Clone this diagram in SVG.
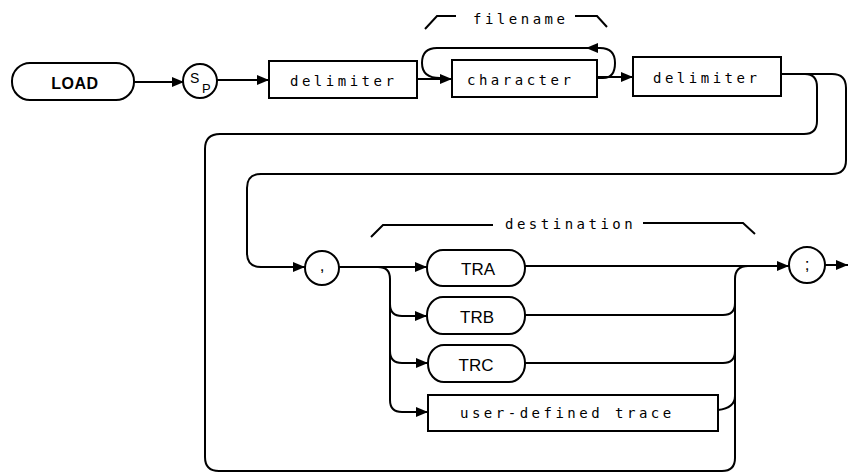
<svg xmlns="http://www.w3.org/2000/svg" width="848" height="475" viewBox="0 0 848 475">
<style>
.ln{fill:none;stroke:#000;stroke-width:2}
.box{fill:#fff;stroke:#000;stroke-width:2}
.mono{font-family:"DejaVu Sans Mono","Liberation Mono",monospace;font-size:14px;letter-spacing:3.5px;fill:#000}
.cap{font-family:"Liberation Sans","DejaVu Sans",sans-serif;font-size:17px;fill:#000;text-anchor:middle}
.bold{font-family:"Liberation Sans","DejaVu Sans",sans-serif;font-size:16px;font-weight:bold;fill:#000;text-anchor:middle;letter-spacing:0.5px}
</style>
<defs>
<marker id="ah" markerUnits="userSpaceOnUse" markerWidth="12" markerHeight="10" refX="12" refY="5" orient="auto">
<path d="M0,0 L12,5 L0,10 Z" fill="#000"/>
</marker>
</defs>
<g id="connectors">
<path class="ln" d="M134,82 H184" marker-end="url(#ah)"/>
<path class="ln" d="M217,80 H269" marker-end="url(#ah)"/>
<path class="ln" d="M417,79 H452" marker-end="url(#ah)"/>
<path class="ln" d="M597,78 H603 Q615,78 615,63 Q615,48 600,48 H586" marker-end="url(#ah)"/>
<path class="ln" d="M588,48 H437 Q422,48 422,63 Q422,78 440,78"/>
<path class="ln" d="M597,77 H633" marker-end="url(#ah)"/>
<path class="ln" d="M781,74 H832 Q846,74 846,88 V160 Q846,174 832,174 H261 Q247,174 247,188 V253 Q247,267 261,267 H305" marker-end="url(#ah)"/>
<path class="ln" d="M805,74 Q817,74 817,87 V121 Q817,134 804,134 H220 Q205,134 205,149 V457 Q205,471 219,471 H722 Q735,471 735,458 V279 Q735,266 748,266"/>
<path class="ln" d="M339,267 H427" marker-end="url(#ah)"/>
<path class="ln" d="M378,267 Q390,267 390,279 V400 Q390,412 402,412 H428" marker-end="url(#ah)"/>
<path class="ln" d="M390,304 Q390,316 402,316 H427" marker-end="url(#ah)"/>
<path class="ln" d="M390,351 Q390,363 402,363 H428" marker-end="url(#ah)"/>
<path class="ln" d="M525,266 H789" marker-end="url(#ah)"/>
<path class="ln" d="M525,315 H723 Q735,315 735,303"/>
<path class="ln" d="M525,363 H723 Q735,363 735,351"/>
<path class="ln" d="M718,410 Q735,408 735,396"/>
<path class="ln" d="M825,265 H848" marker-end="url(#ah)"/>
<path class="ln" d="M425,29 L437,16 H456"/>
<path class="ln" d="M575,16 H597 L607,27"/>
<path class="ln" d="M371,237 L383,225 H493"/>
<path class="ln" d="M643,223 H743 L755,234"/>
</g>
<text class="mono" x="473" y="24">filename</text>
<text class="mono" x="505" y="229">destination</text>
<g id="load">
<rect class="box" x="12" y="63" width="122" height="37" rx="18" ry="18"/>
<text class="bold" x="75" y="89">LOAD</text>
</g>
<g id="sp">
<circle class="box" cx="200" cy="81" r="17"/>
<text x="190" y="83" font-family="Liberation Sans, DejaVu Sans, sans-serif" font-size="14" fill="#000">S</text>
<text x="202" y="93" font-family="Liberation Sans, DejaVu Sans, sans-serif" font-size="13" fill="#000">P</text>
</g>
<g id="delimiter1">
<rect class="box" x="269" y="61" width="148" height="37"/>
<text class="mono" x="290" y="86">delimiter</text>
</g>
<g id="character">
<rect class="box" x="452" y="60" width="145" height="37"/>
<text class="mono" x="467" y="85">character</text>
</g>
<g id="delimiter2">
<rect class="box" x="633" y="57" width="148" height="39"/>
<text class="mono" x="653" y="83">delimiter</text>
</g>
<g id="comma">
<circle class="box" cx="322" cy="268" r="17"/>
<text class="cap" x="322" y="271" font-size="16">,</text>
</g>
<g id="tra">
<rect class="box" x="427" y="250" width="98" height="36" rx="16" ry="18"/>
<text class="cap" x="478" y="275">TRA</text>
</g>
<g id="trb">
<rect class="box" x="427" y="297" width="98" height="37" rx="16" ry="18"/>
<text class="cap" x="477" y="323">TRB</text>
</g>
<g id="trc">
<rect class="box" x="428" y="345" width="97" height="37" rx="16" ry="18"/>
<text class="cap" x="476" y="371">TRC</text>
</g>
<g id="userdefined">
<rect class="box" x="428" y="395" width="290" height="36"/>
<text class="mono" x="460" y="418">user-defined trace</text>
</g>
<g id="semicolon">
<circle class="box" cx="807" cy="265" r="18"/>
<text class="cap" x="807" y="270" font-size="16">;</text>
</g>
</svg>
